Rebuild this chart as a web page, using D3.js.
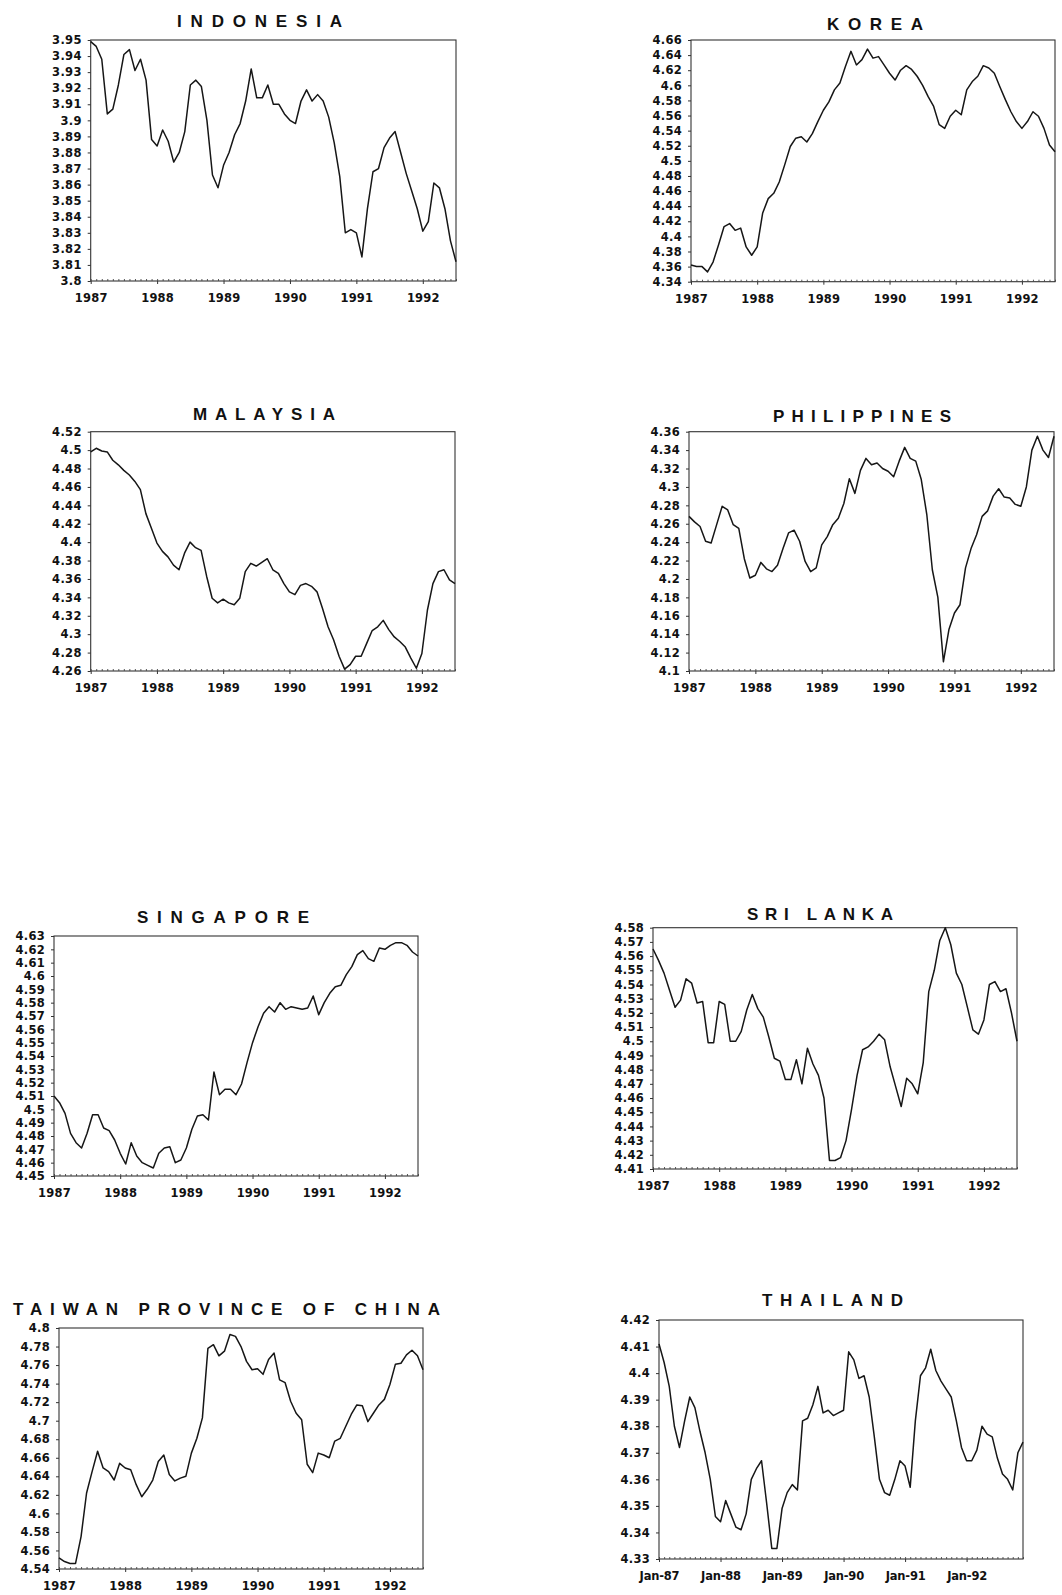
<!DOCTYPE html>
<html><head><meta charset="utf-8">
<script src="https://cdn.jsdelivr.net/npm/d3@7"></script>
<style>body{margin:0;background:#fff}svg{display:block}</style>
</head><body><svg id="c" width="1062" height="1595"></svg>
<script>
// ---------- DATA (monthly index values, Jan 1987 onward) ----------
const countries = ["INDONESIA","KOREA","MALAYSIA","PHILIPPINES","SINGAPORE","SRI LANKA","TAIWAN PROVINCE OF CHINA","THAILAND"];

const indonesia = [3.949,3.946,3.938,3.904,3.907,3.922,3.941,3.944,3.931,3.938,
3.925,3.888,3.884,3.894,3.887,3.874,3.880,3.893,3.922,3.925,
3.921,3.900,3.866,3.858,3.872,3.880,3.891,3.898,3.912,3.932,
3.914,3.914,3.922,3.910,3.910,3.904,3.900,3.898,3.912,3.919,
3.912,3.916,3.912,3.902,3.886,3.865,3.830,3.832,3.830,3.815,
3.845,3.868,3.870,3.883,3.889,3.893,3.880,3.867,3.856,3.845,
3.831,3.837,3.861,3.858,3.845,3.825,3.812];

const korea = [4.362,4.360,4.360,4.353,4.366,4.389,4.413,4.417,4.408,4.411,
4.386,4.375,4.386,4.431,4.450,4.457,4.472,4.495,4.519,4.530,
4.532,4.525,4.536,4.552,4.567,4.578,4.594,4.603,4.625,4.645,
4.627,4.634,4.648,4.636,4.638,4.627,4.616,4.607,4.620,4.626,
4.621,4.612,4.600,4.585,4.572,4.548,4.543,4.559,4.567,4.561,
4.594,4.605,4.612,4.626,4.623,4.616,4.598,4.581,4.565,4.552,
4.543,4.552,4.565,4.559,4.543,4.521,4.512];

const malaysia = [4.498,4.502,4.499,4.498,4.489,4.484,4.478,4.473,4.466,4.457,
4.431,4.415,4.399,4.390,4.384,4.375,4.370,4.388,4.400,4.394,
4.391,4.363,4.339,4.334,4.338,4.334,4.332,4.339,4.368,4.377,
4.374,4.378,4.382,4.370,4.366,4.355,4.346,4.343,4.353,4.355,
4.352,4.346,4.328,4.308,4.294,4.276,4.262,4.267,4.276,4.276,
4.290,4.304,4.308,4.315,4.305,4.297,4.292,4.286,4.274,4.263,
4.279,4.326,4.355,4.368,4.370,4.359,4.355];

const philippines = [4.268,4.262,4.257,4.241,4.239,4.259,4.279,4.275,4.259,4.255,
4.222,4.201,4.204,4.218,4.211,4.208,4.215,4.233,4.250,4.253,
4.241,4.219,4.208,4.212,4.237,4.246,4.259,4.266,4.282,4.309,
4.293,4.318,4.331,4.324,4.326,4.320,4.317,4.311,4.328,4.343,
4.331,4.328,4.308,4.270,4.210,4.180,4.110,4.145,4.163,4.172,
4.212,4.233,4.248,4.268,4.274,4.290,4.298,4.289,4.288,4.281,
4.279,4.300,4.340,4.355,4.340,4.332,4.355];

const singapore = [4.510,4.505,4.497,4.482,4.475,4.471,4.482,4.496,4.496,4.486,
4.484,4.477,4.467,4.459,4.475,4.465,4.460,4.458,4.456,4.467,
4.471,4.472,4.460,4.462,4.471,4.485,4.495,4.496,4.492,4.528,
4.511,4.515,4.515,4.511,4.519,4.535,4.550,4.562,4.572,4.577,
4.573,4.580,4.575,4.577,4.576,4.575,4.576,4.585,4.571,4.580,
4.587,4.592,4.593,4.601,4.607,4.616,4.619,4.613,4.611,4.621,
4.620,4.623,4.625,4.625,4.623,4.618,4.615];

const sriLanka = [4.565,4.557,4.548,4.536,4.524,4.529,4.544,4.541,4.527,4.528,
4.499,4.499,4.528,4.526,4.500,4.500,4.507,4.522,4.533,4.523,
4.517,4.503,4.488,4.486,4.473,4.473,4.487,4.470,4.495,4.484,
4.476,4.460,4.416,4.416,4.418,4.430,4.452,4.476,4.494,4.496,
4.500,4.505,4.501,4.482,4.468,4.454,4.474,4.470,4.463,4.485,
4.535,4.550,4.571,4.580,4.568,4.548,4.540,4.524,4.508,4.505,
4.515,4.540,4.542,4.535,4.537,4.520,4.500];

const taiwan = [4.552,4.548,4.546,4.546,4.575,4.622,4.645,4.667,4.649,4.645,
4.636,4.654,4.649,4.647,4.631,4.618,4.626,4.636,4.656,4.663,
4.642,4.635,4.638,4.640,4.665,4.681,4.703,4.778,4.782,4.770,
4.775,4.793,4.791,4.780,4.764,4.755,4.756,4.750,4.766,4.773,
4.744,4.741,4.721,4.708,4.701,4.653,4.644,4.665,4.663,4.660,
4.678,4.681,4.694,4.707,4.717,4.716,4.699,4.708,4.717,4.723,
4.739,4.761,4.762,4.771,4.776,4.770,4.755];

const thailand = [4.411,4.404,4.395,4.380,4.372,4.382,4.391,4.387,4.378,4.370,
4.360,4.346,4.344,4.352,4.347,4.342,4.341,4.347,4.360,4.364,
4.367,4.351,4.334,4.334,4.349,4.355,4.358,4.356,4.382,4.383,
4.388,4.395,4.385,4.386,4.384,4.385,4.386,4.408,4.405,4.398,
4.399,4.391,4.376,4.360,4.355,4.354,4.360,4.367,4.365,4.357,
4.382,4.399,4.402,4.409,4.401,4.397,4.394,4.391,4.382,4.372,
4.367,4.367,4.371,4.380,4.377,4.376,4.368,4.362,4.360,4.356,
4.370,4.374];

const series = [indonesia, korea, malaysia, philippines, singapore, sriLanka, taiwan, thailand];

// y-axis ranges and label steps
const yMin  = [3.80, 4.34, 4.26, 4.10, 4.45, 4.41, 4.54, 4.33];
const yMax  = [3.95, 4.66, 4.52, 4.36, 4.63, 4.58, 4.80, 4.42];
const yStep = [0.01, 0.02, 0.02, 0.02, 0.01, 0.01, 0.02, 0.01];

// x-axis labels (at each January)
const yearLabels = ["1987","1988","1989","1990","1991","1992"];
const thaiLabels = ["Jan-87","Jan-88","Jan-89","Jan-90","Jan-91","Jan-92"];
const yearMonths = [0,12,24,36,48,60];
const lastMonth  = [66,66,66,66,66,66,66,71];

// ---------- LAYOUT ----------
const layout = [
  {l:90.7, r:456,  t:40,    b:281,   tx:259.5, ty:27.3,  tw:165},
  {l:691,  r:1055, t:40,    b:281.7, tx:875,   ty:30,    tw:96},
  {l:90.7, r:455,  t:431.7, b:671,   tx:264,   ty:420,   tw:142},
  {l:689,  r:1054, t:431.7, b:671,   tx:862,   ty:421.7, tw:178},
  {l:54,   r:418,  t:936,   b:1176,  tx:223,   ty:922.7, tw:172},
  {l:653,  r:1017, t:927.7, b:1169,  tx:820,   ty:920,   tw:146},
  {l:59,   r:423,  t:1328,  b:1569,  tx:226.5, ty:1315,  tw:427},
  {l:659,  r:1023, t:1320,  b:1559,  tx:832.5, ty:1306,  tw:141}
];

const svg = d3.select("#c");
const fmt = d => String(+d.toFixed(2));
const tickFont = "'DejaVu Sans', sans-serif";

countries.forEach((name, i) => {
  const L = layout[i];
  const g = svg.append("g");
  const x = d3.scaleLinear().domain([0, lastMonth[i]]).range([L.l, L.r]);
  const y = d3.scaleLinear().domain([yMin[i], yMax[i]]).range([L.b, L.t]);

  // title
  g.append("text")
    .attr("x", L.tx).attr("y", L.ty)
    .attr("text-anchor", "middle")
    .attr("textLength", L.tw).attr("lengthAdjust", "spacing")
    .style("font-family", "'Liberation Sans', Arial, sans-serif")
    .style("font-weight", "bold").style("font-size", "17px").style("fill", "#111")
    .text(name);

  // frame
  g.append("rect")
    .attr("x", L.l).attr("y", L.t)
    .attr("width", L.r - L.l).attr("height", L.b - L.t)
    .attr("fill", "none").attr("stroke", "#333").attr("stroke-width", 1.1);

  // left axis
  const nT = Math.round((yMax[i] - yMin[i]) / yStep[i]);
  const yTicks = d3.range(nT + 1).map(k => +(yMin[i] + k * yStep[i]).toFixed(3));
  const ya = g.append("g").attr("transform", `translate(${L.l},0)`)
    .call(d3.axisLeft(y).tickValues(yTicks).tickSize(3).tickPadding(6).tickFormat(fmt));
  ya.select(".domain").remove();
  ya.selectAll("line").attr("stroke", "#333");
  ya.selectAll("text")
    .style("font-family", tickFont).style("font-weight", "bold")
    .style("font-size", "11.5px").style("letter-spacing", "0.3px").style("fill", "#111");

  // bottom minor (monthly) ticks, pointing up
  const mn = g.append("g").attr("transform", `translate(0,${L.b})`)
    .call(d3.axisBottom(x).tickValues(d3.range(0, lastMonth[i] + 1)).tickSize(-2).tickFormat(""));
  mn.select(".domain").remove();
  mn.selectAll("line").attr("stroke", "#444").attr("stroke-width", 0.9);

  // bottom major (year) ticks with labels
  const labels = i === 7 ? thaiLabels : yearLabels;
  const xa = g.append("g").attr("transform", `translate(0,${L.b})`)
    .call(d3.axisBottom(x).tickValues(yearMonths).tickSize(3)
      .tickFormat((d, k) => labels[k]));
  xa.select(".domain").remove();
  xa.selectAll("line").attr("stroke", "#333");
  xa.selectAll("text")
    .attr("y", 21).attr("dy", 0)
    .style("font-family", tickFont).style("font-weight", "bold")
    .style("font-size", "11.5px").style("letter-spacing", i === 7 ? "-0.2px" : "0.2px")
    .style("fill", "#111");

  // series line
  const line = d3.line().x((d, k) => x(k)).y(d => y(d));
  g.append("path").datum(series[i])
    .attr("d", line)
    .attr("fill", "none").attr("stroke", "#161616")
    .attr("stroke-width", 1.5).attr("stroke-linejoin", "round");
});
</script>
</body></html>
